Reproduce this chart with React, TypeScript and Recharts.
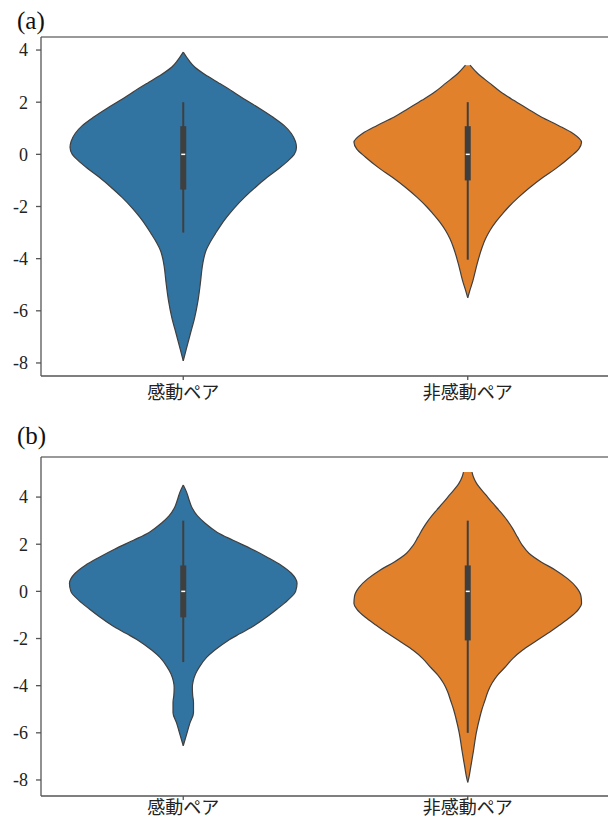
import React from 'react'
import { ComposedChart, Area, XAxis, YAxis, ReferenceLine } from 'recharts'

// ─── Data ───────────────────────────────────────────────────────────
const CATEGORIES = ['感動ペア', '非感動ペア']
const Y_TICKS = [-8, -6, -4, -2, 0, 2, 4]

// violin outlines as [value, half-width] pairs, read top to bottom
const A_EMO: [number, number][] = [
  [3.92, 0], [3.6, 0.02], [3.35, 0.04], [3.0, 0.085], [2.73, 0.126], [2.4, 0.175],
  [2.08, 0.22], [1.75, 0.27], [1.42, 0.316], [1.1, 0.355], [0.8, 0.38], [0.5, 0.394],
  [0.27, 0.398], [0.0, 0.39], [-0.23, 0.37], [-0.55, 0.335], [-0.88, 0.295], [-1.25, 0.255],
  [-1.65, 0.215], [-2.05, 0.18], [-2.42, 0.152], [-2.75, 0.13], [-3.04, 0.113], [-3.4, 0.093],
  [-3.69, 0.08], [-4.0, 0.072], [-4.3, 0.067], [-4.96, 0.06], [-5.6, 0.052], [-6.27, 0.04],
  [-6.88, 0.025], [-7.5, 0.01], [-7.92, 0],
]
const A_NON: [number, number][] = [
  [3.42, 0.008], [3.1, 0.035], [2.73, 0.077], [2.4, 0.115], [2.08, 0.16], [1.75, 0.21],
  [1.42, 0.26], [1.1, 0.32], [0.8, 0.37], [0.46, 0.4], [0.2, 0.39], [-0.1, 0.36],
  [-0.5, 0.315], [-0.88, 0.265], [-1.3, 0.215], [-1.65, 0.178], [-2.0, 0.145], [-2.27, 0.123],
  [-2.6, 0.098], [-2.92, 0.078], [-3.25, 0.062], [-3.58, 0.05], [-4.2, 0.033], [-4.85, 0.018],
  [-5.2, 0.008], [-5.5, 0],
]
const B_EMO: [number, number][] = [
  [4.51, 0], [4.2, 0.012], [3.9, 0.02], [3.57, 0.03], [3.2, 0.05], [2.89, 0.077],
  [2.5, 0.12], [2.17, 0.175], [1.8, 0.24], [1.45, 0.295], [1.1, 0.345], [0.77, 0.38],
  [0.34, 0.4], [0.0, 0.395], [-0.38, 0.367], [-0.75, 0.33], [-1.1, 0.292], [-1.45, 0.25],
  [-1.79, 0.2], [-2.08, 0.158], [-2.5, 0.11], [-2.8, 0.082], [-3.2, 0.057], [-3.5, 0.043],
  [-3.8, 0.035], [-4.08, 0.032], [-4.4, 0.033], [-4.7, 0.036], [-5.15, 0.036], [-5.6, 0.023],
  [-6.1, 0.011], [-6.55, 0],
]
const B_NON: [number, number][] = [
  [5.06, 0.015], [4.85, 0.02], [4.6, 0.03], [4.43, 0.04], [4.1, 0.063], [3.74, 0.088],
  [3.38, 0.114], [3.02, 0.138], [2.66, 0.158], [2.3, 0.175], [1.95, 0.192], [1.62, 0.215],
  [1.25, 0.258], [0.89, 0.31], [0.53, 0.352], [0.17, 0.382], [-0.2, 0.398], [-0.51, 0.4],
  [-0.75, 0.39], [-1.1, 0.36], [-1.45, 0.32], [-1.79, 0.28], [-2.15, 0.235], [-2.5, 0.192],
  [-2.85, 0.158], [-3.23, 0.13], [-3.55, 0.105], [-3.9, 0.085], [-4.25, 0.071], [-4.64, 0.06],
  [-5.0, 0.05], [-5.36, 0.042], [-6.0, 0.03], [-6.77, 0.02], [-7.49, 0.01], [-7.9, 0.004],
  [-8.1, 0],
]

// inner box plots, one entry per category
const A_WHISKER_LO = [-3.0, -4.04]
const A_WHISKER_HI = [2.0, 2.0]
const A_Q1 = [-1.35, -1.0]
const A_Q3 = [1.08, 1.08]
const A_MEDIAN = [0, 0]

const B_WHISKER_LO = [-3.0, -6.0]
const B_WHISKER_HI = [3.0, 3.0]
const B_Q1 = [-1.1, -2.08]
const B_Q3 = [1.1, 1.1]
const B_MEDIAN = [0, 0]

// ─── Styling ────────────────────────────────────────────────────────
const COLORS = ['#3274a1', '#e1812c']
const EDGE = '#3f3f3f'
const AXIS = '#555'

type Box = { lo: number[]; hi: number[]; q1: number[]; q3: number[]; med: number[] }

const toRange = (shape: [number, number][], pos: number) =>
  shape.map(([y, w]) => ({ y, v: [pos - w, pos + w] }))

function ViolinPanel({
  shapes, box, domain, height, marginTop, xAxisHeight, labelGap,
}: {
  shapes: [number, number][][]
  box: Box
  domain: [number, number]
  height: number
  marginTop: number
  xAxisHeight: number
  labelGap: number
}) {
  return (
    <ComposedChart
      layout="vertical"
      width={610}
      height={height}
      margin={{ top: marginTop, right: 0, bottom: 0, left: 0 }}
    >
      <XAxis
        type="number"
        domain={[-0.5, 1.5]}
        ticks={[0, 1]}
        allowDataOverflow
        tickFormatter={(v: number) => CATEGORIES[v]}
        height={xAxisHeight}
        stroke={AXIS}
        strokeWidth={1.3}
        tickSize={4}
        tickMargin={labelGap}
        tick={{ fill: '#222', fontSize: 18, fontFamily: '"Noto Sans CJK JP", sans-serif' }}
      />
      <YAxis
        type="number"
        dataKey="y"
        domain={domain}
        reversed
        allowDataOverflow
        ticks={Y_TICKS}
        width={41}
        stroke={AXIS}
        strokeWidth={1.3}
        tickSize={5}
        tickMargin={8}
        tick={{ fill: '#222', fontSize: 18, fontFamily: '"Liberation Serif", serif' }}
      />
      <ReferenceLine y={domain[1]} stroke="#777" strokeWidth={1.5} />

      {shapes.map((shape, i) => (
        <Area
          key={`violin-${i}`}
          data={toRange(shape, i)}
          dataKey="v"
          type="monotone"
          fill={COLORS[i]}
          fillOpacity={1}
          stroke={EDGE}
          strokeWidth={1.2}
          dot={false}
          activeDot={false}
          isAnimationActive={false}
        />
      ))}

      {CATEGORIES.map((_, i) => (
        <ReferenceLine
          key={`whisker-${i}`}
          segment={[{ x: i, y: box.lo[i] }, { x: i, y: box.hi[i] }]}
          stroke={EDGE}
          strokeWidth={2}
        />
      ))}
      {CATEGORIES.map((_, i) => (
        <ReferenceLine
          key={`box-${i}`}
          segment={[{ x: i, y: box.q1[i] }, { x: i, y: box.q3[i] }]}
          stroke={EDGE}
          strokeWidth={6}
        />
      ))}
      {CATEGORIES.map((_, i) => (
        <ReferenceLine
          key={`median-${i}`}
          segment={[{ x: i - 0.007, y: box.med[i] }, { x: i + 0.007, y: box.med[i] }]}
          stroke="#fff"
          strokeWidth={1.5}
        />
      ))}
    </ComposedChart>
  )
}

const labelStyle: React.CSSProperties = {
  position: 'absolute',
  left: 17,
  fontFamily: '"Liberation Serif", serif',
  fontSize: 25,
  lineHeight: 1,
  color: '#111',
}

export default function App() {
  return (
    <div style={{ position: 'absolute', left: 0, top: 0, width: 608, height: 818, overflow: 'hidden', background: '#fff' }}>
      <div style={{ ...labelStyle, top: 8 }}>(a)</div>
      <div style={{ position: 'absolute', left: 0, top: 0 }}>
        <ViolinPanel
          shapes={[A_EMO, A_NON]}
          box={{ lo: A_WHISKER_LO, hi: A_WHISKER_HI, q1: A_Q1, q3: A_Q3, med: A_MEDIAN }}
          domain={[-8.5, 4.5]}
          height={410}
          marginTop={37}
          xAxisHeight={34}
          labelGap={6}
        />
      </div>

      <div style={{ ...labelStyle, top: 423 }}>(b)</div>
      <div style={{ position: 'absolute', left: 0, top: 410 }}>
        <ViolinPanel
          shapes={[B_EMO, B_NON]}
          box={{ lo: B_WHISKER_LO, hi: B_WHISKER_HI, q1: B_Q1, q3: B_Q3, med: B_MEDIAN }}
          domain={[-8.68, 5.7]}
          height={408}
          marginTop={47}
          xAxisHeight={22}
          labelGap={1}
        />
      </div>
    </div>
  )
}
